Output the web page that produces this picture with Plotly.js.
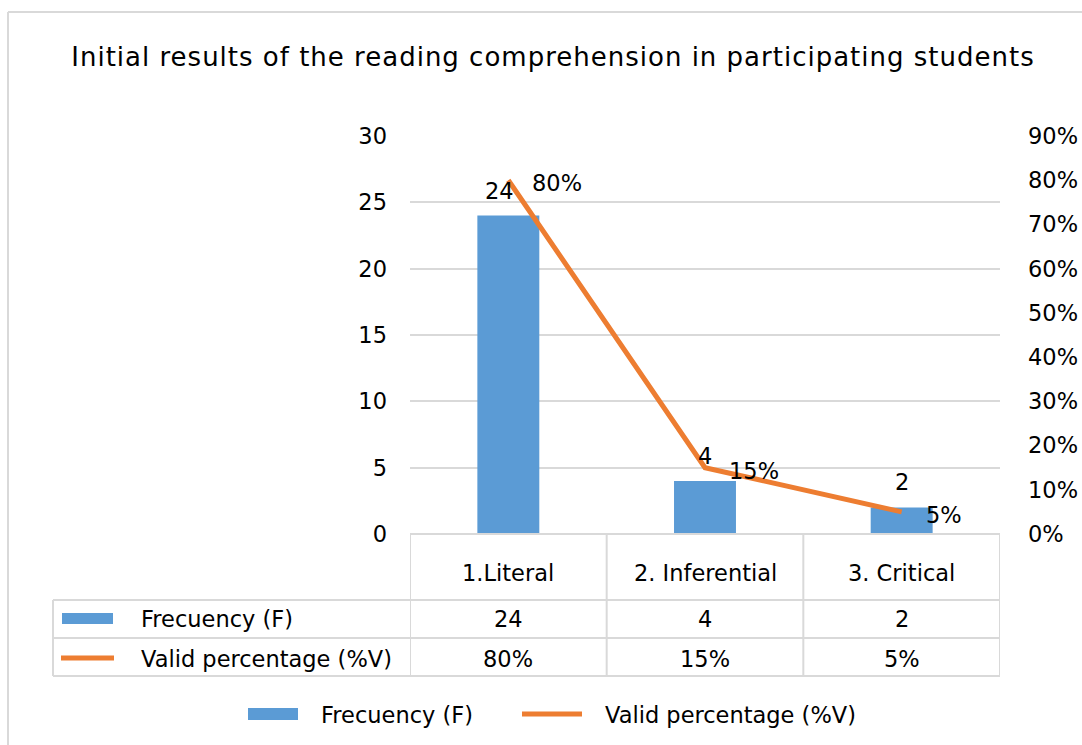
<!DOCTYPE html>
<html>
<head>
<meta charset="utf-8">
<script src="https://cdn.plot.ly/plotly-3.0.1.min.js"></script>
<style>html,body{margin:0;padding:0;background:#fff;}#chart{width:1082px;height:745px;}.gtitle{letter-spacing:1px;}</style>
</head>
<body>
<div id="chart"></div>
<script>
const categories = ["1.Literal", "2. Inferential", "3. Critical"];
const frequency = [24, 4, 2];
const validPct = [0.80, 0.15, 0.05];
const seriesNames = ["Frecuency (F)", "Valid percentage (%V)"];
const titleText = "Initial results of the reading comprehension in participating students";

const W = 1082, H = 745;
const L = 410, R = 82, T = 136, B = 211;
const PW = W - L - R, PH = H - T - B;
const px = v => (v - L) / PW;
const py = v => (H - B - v) / PH;

const BLUE = "#5B9BD5", ORANGE = "#ED7D31", GRID = "#d9d9d9", TXT = "#000000";
const FONT = "DejaVu Sans, Verdana, sans-serif";
const FS = 22.5;

const pctFmt = v => Math.round(v * 100) + "%";

const traces = [
  {type: "bar", x: categories, y: frequency, name: seriesNames[0], marker: {color: BLUE}, width: 0.315, yaxis: "y", hoverinfo: "skip"},
  {type: "scatter", mode: "lines", x: categories, y: validPct, name: seriesNames[1], line: {color: ORANGE, width: 5}, yaxis: "y2", hoverinfo: "skip", cliponaxis: false}
];

const shapes = [];
const annotations = [];
const hline = (y, x0, x1) => shapes.push({type: "line", xref: "paper", yref: "paper", x0: px(x0), x1: px(x1), y0: py(y), y1: py(y), line: {color: GRID, width: 2}});
// frame
shapes.push({type: "line", xref: "paper", yref: "paper", x0: px(8), x1: px(W + 5), y0: py(12), y1: py(12), line: {color: GRID, width: 2}});
shapes.push({type: "line", xref: "paper", yref: "paper", x0: px(8), x1: px(8), y0: py(12), y1: py(H + 5), line: {color: GRID, width: 2}});
// table
hline(534, 410, 1000);
hline(600, 53, 1000);
hline(638, 53, 1000);
hline(676, 53, 1000);
[-0.5, 0.5, 1.5, 2.5].forEach(xv => shapes.push({type: "line", xref: "x", yref: "paper", x0: xv, x1: xv, y0: py(534), y1: py(676), line: {color: GRID, width: 2}}));
shapes.push({type: "line", xref: "paper", yref: "paper", x0: px(53), x1: px(53), y0: py(600), y1: py(676), line: {color: GRID, width: 2}});
// table legend keys
shapes.push({type: "rect", xref: "paper", yref: "paper", x0: px(62), x1: px(113), y0: py(613), y1: py(624), fillcolor: BLUE, line: {width: 0}});
shapes.push({type: "line", xref: "paper", yref: "paper", x0: px(61), x1: px(114), y0: py(658), y1: py(658), line: {color: ORANGE, width: 5}});
// bottom legend keys
shapes.push({type: "rect", xref: "paper", yref: "paper", x0: px(248), x1: px(298), y0: py(708), y1: py(720), fillcolor: BLUE, line: {width: 0}});
shapes.push({type: "line", xref: "paper", yref: "paper", x0: px(522), x1: px(582), y0: py(714), y1: py(714), line: {color: ORANGE, width: 5}});

const font = {family: FONT, size: FS, color: TXT};
// table cells
categories.forEach((c, i) => {
  annotations.push({xref: "x", yref: "paper", x: c, y: py(573), text: c, showarrow: false, font, xanchor: "center", yanchor: "middle"});
  annotations.push({xref: "x", yref: "paper", x: c, y: py(619), text: String(frequency[i]), showarrow: false, font, xanchor: "center", yanchor: "middle"});
  annotations.push({xref: "x", yref: "paper", x: c, y: py(659), text: pctFmt(validPct[i]), showarrow: false, font, xanchor: "center", yanchor: "middle"});
  // data labels
  annotations.push({xref: "x", yref: "y", x: c, y: frequency[i], text: String(frequency[i]), showarrow: false, font, xanchor: "center", yanchor: "middle", yshift: 25, xshift: i === 0 ? -9 : 0});
  annotations.push({xref: "x", yref: "y2", x: c, y: validPct[i], text: pctFmt(validPct[i]), showarrow: false, font, xanchor: "left", yanchor: "middle", yshift: -3, xshift: 22});
});
annotations.push({xref: "paper", yref: "paper", x: px(139), y: py(619), text: seriesNames[0], showarrow: false, font, xanchor: "left", yanchor: "middle"});
annotations.push({xref: "paper", yref: "paper", x: px(139), y: py(659), text: seriesNames[1], showarrow: false, font, xanchor: "left", yanchor: "middle"});
annotations.push({xref: "paper", yref: "paper", x: px(319), y: py(715), text: seriesNames[0], showarrow: false, font, xanchor: "left", yanchor: "middle"});
annotations.push({xref: "paper", yref: "paper", x: px(603), y: py(715), text: seriesNames[1], showarrow: false, font, xanchor: "left", yanchor: "middle"});

const layout = {
  width: W, height: H,
  margin: {l: L, r: R, t: T, b: B, pad: 0},
  paper_bgcolor: "#fff", plot_bgcolor: "#fff",
  showlegend: false,
  font: {family: FONT, size: FS, color: TXT},
  title: {text: titleText, font: {family: FONT, size: 26, color: TXT}, xref: "container", yref: "container", x: 553 / W, y: 1 - 57 / H, xanchor: "center", yanchor: "middle"},
  xaxis: {type: "category", range: [-0.5, 2.5], showticklabels: false, showgrid: false, zeroline: false, showline: false, ticks: "", fixedrange: true},
  yaxis: {range: [0, 30], dtick: 5, tick0: 0, showgrid: true, gridcolor: GRID, gridwidth: 2, zeroline: false, showline: false, ticks: "", ticklabelstandoff: 22, tickfont: {family: FONT, size: FS, color: TXT}},
  yaxis2: {overlaying: "y", side: "right", range: [0, 0.9], dtick: 0.1, tick0: 0, tickformat: ".0%", showgrid: false, zeroline: false, showline: false, ticks: "", ticklabelstandoff: 27, tickfont: {family: FONT, size: FS, color: TXT}},
  shapes, annotations
};

Plotly.newPlot("chart", traces, layout, {staticPlot: true, displayModeBar: false});
</script>
</body>
</html>
